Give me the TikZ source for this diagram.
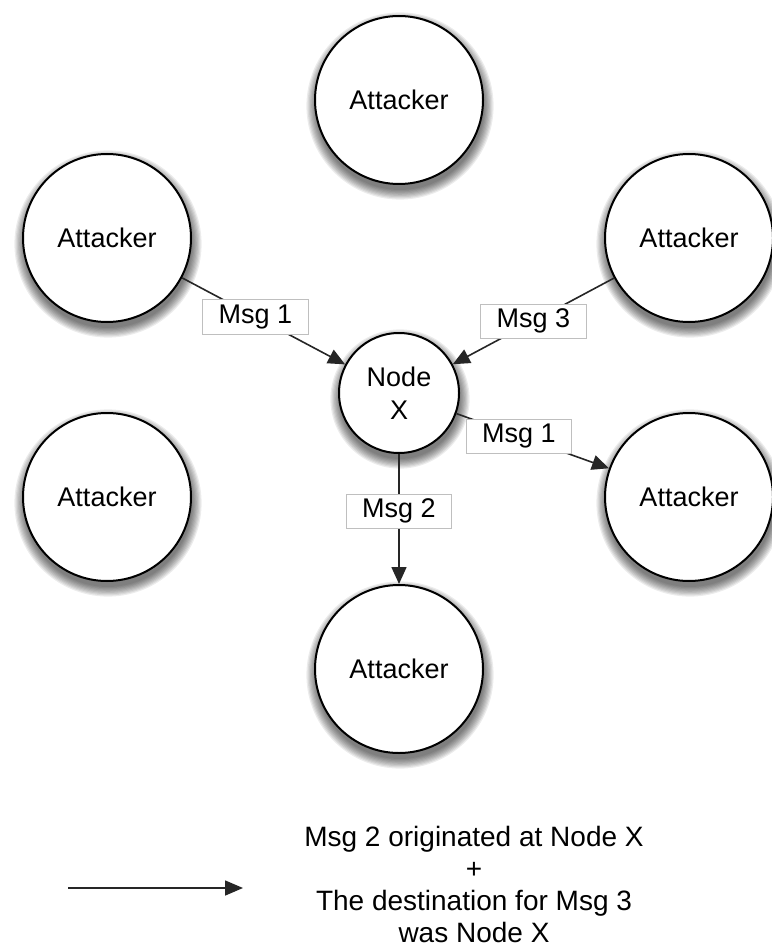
\documentclass[tikz,border=0pt]{standalone}
\usepackage{fontspec}
\setmainfont{Liberation Sans}
\usetikzlibrary{arrows.meta}
\pgfdeclarelayer{shadowlayer}
\pgfsetlayers{shadowlayer,main}
\begin{document}
\begin{tikzpicture}[x=1pt,y=-1pt,
  txt/.style={font=\fontsize{27}{34}\selectfont},
  peer/.style={circle,draw=black,line width=2pt,fill=white,minimum size=168pt,inner sep=0pt,txt},
  hub/.style={peer,minimum size=120pt,align=center},
  lbl/.style={rectangle,draw=black!25,line width=0.6pt,fill=white,txt,inner xsep=16pt,inner ysep=5pt},
  conn/.style={draw=black!85,line width=1.6pt,-{Triangle[length=17pt,width=15pt]}},
  shade/.style={fill=black,opacity=0.075}
]
\useasboundingbox (0,0) rectangle (771,949);
\node[peer] (top) at (399,100) {Attacker};
\node[peer] (tl) at (107,238) {Attacker};
\node[peer] (tr) at (689,238) {Attacker};
\node[peer] (ml) at (107,497) {Attacker};
\node[peer] (mr) at (689,497) {Attacker};
\node[peer] (bot) at (399,669) {Attacker};
\node[hub] (x) at (399,393) {Node\\[-1pt]X};

\begin{pgfonlayer}{shadowlayer}
  \foreach \n/\r in {top/84,tl/84,tr/84,ml/84,mr/84,bot/84,x/60}{
    \foreach \k in {0,...,8}{
      \fill[shade] ([xshift=1pt,yshift=-6pt]\n.center) circle ({\r+\k*1.2});
    }
  }
\end{pgfonlayer}

\draw[conn] (tl) -- node[lbl,pos=0.45] {Msg 1} (x);
\draw[conn] (tr) -- node[lbl,pos=0.5] {Msg 3} (x);
\draw[conn] (x) -- node[lbl,pos=0.41] {Msg 1} (mr);
\draw[conn] (x) -- node[lbl,pos=0.44] {Msg 2} (bot);

\coordinate (ls) at (68,888);
\coordinate (le) at (243,888);
\draw[draw=black!85,line width=1.6pt,-{Triangle[length=18pt,width=15pt]}] (ls) -- (le);
\node[align=center,font=\fontsize{28}{32}\selectfont] (legend) at (474,884)
  {Msg 2 originated at Node X\\+\\The destination for Msg 3\\was Node X};
\end{tikzpicture}
\end{document}
